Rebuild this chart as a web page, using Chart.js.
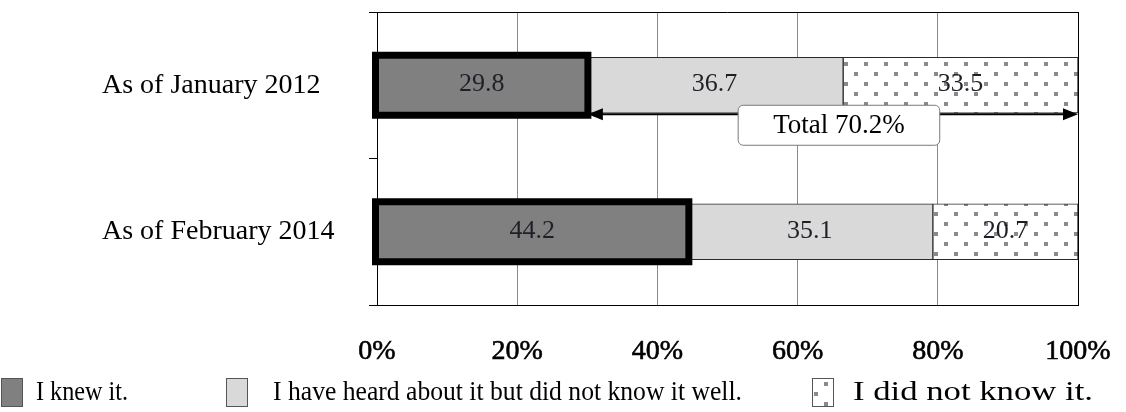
<!DOCTYPE html>
<html>
<head>
<meta charset="utf-8">
<title>Awareness survey</title>
<script src="https://cdn.jsdelivr.net/npm/chart.js@4/dist/chart.umd.min.js"></script>
<style>
  html, body { margin: 0; padding: 0; background: #fff; }
  #wrap { width: 1126px; height: 412px; position: relative; }
</style>
</head>
<body>
<div id="wrap"><canvas id="chart"></canvas></div>
<script>
// Survey periods (rows) and the share of answers for each response (%)
const categories = ['As of January 2012', 'As of February 2014'];
const seriesNames = ['I knew it.', 'I have heard about it but did not know it well.', 'I did not know it.'];
const knewIt = [29.8, 44.2];
const heardNotWell = [36.7, 35.1];
const didNotKnow = [33.5, 20.7];
const tickStep = 20;

const SERIF = "'Liberation Serif', 'Times New Roman', serif";

// White tile with staggered grey dots for the "did not know" segments
function dotPattern() {
  const tile = document.createElement('canvas');
  tile.width = 20; tile.height = 20;
  const g = tile.getContext('2d');
  g.fillStyle = '#ffffff';
  g.fillRect(0, 0, 20, 20);
  g.fillStyle = '#8a8a8a';
  g.fillRect(4, 2, 4, 4);
  g.fillRect(14, 12, 4, 4);
  return g.createPattern(tile, 'repeat');
}
const dots = dotPattern();

// Values printed in the middle of every segment
const segmentLabels = {
  id: 'segmentLabels',
  afterDatasetsDraw(chart) {
    const ctx = chart.ctx;
    ctx.save();
    ctx.font = '26px ' + SERIF;
    ctx.fillStyle = '#1f1f28';
    ctx.textAlign = 'center';
    ctx.textBaseline = 'middle';
    chart.data.datasets.forEach((ds, di) => {
      chart.getDatasetMeta(di).data.forEach((el, i) => {
        const p = el.getProps(['x', 'y', 'base'], true);
        ctx.fillText(ds.data[i].toFixed(1), (p.x + p.base) / 2, p.y - 1);
      });
    });
    ctx.restore();
  }
};

// Heavy outline around the "I knew it." segments
const heavyOutline = {
  id: 'heavyOutline',
  afterDatasetsDraw(chart) {
    const ctx = chart.ctx;
    ctx.save();
    ctx.strokeStyle = '#000';
    ctx.lineWidth = 7;
    ctx.lineJoin = 'miter';
    chart.getDatasetMeta(0).data.forEach(el => {
      const p = el.getProps(['x', 'y', 'base', 'height'], true);
      const l = Math.min(p.x, p.base) - 2, r = Math.max(p.x, p.base) + 2;
      const t = p.y - p.height / 2 - 2, b = p.y + p.height / 2 + 2;
      ctx.strokeRect(l, t, r - l, b - t);
    });
    ctx.restore();
  }
};

// Double-headed arrow spanning the two lighter segments of the first row, with its total
const totalCallout = {
  id: 'totalCallout',
  afterDatasetsDraw(chart) {
    const ctx = chart.ctx;
    const first = chart.getDatasetMeta(0).data[0].getProps(['x', 'y', 'height'], true);
    const last = chart.getDatasetMeta(2).data[0].getProps(['x'], true);
    const x0 = first.x + 2, x1 = last.x;
    const y = first.y + first.height / 2 + 1;
    ctx.save();
    ctx.strokeStyle = '#000';
    ctx.fillStyle = '#000';
    ctx.lineWidth = 2;
    ctx.beginPath();
    ctx.moveTo(x0 + 10, y); ctx.lineTo(x1 - 10, y);
    ctx.stroke();
    const head = (tip, dir) => {
      ctx.beginPath();
      ctx.moveTo(tip, y);
      ctx.lineTo(tip - dir * 15, y - 6);
      ctx.lineTo(tip - dir * 15, y + 6);
      ctx.closePath();
      ctx.fill();
    };
    head(x0, -1);
    head(x1, 1);

    const total = (heardNotWell[0] + didNotKnow[0]).toFixed(1);
    const text = 'Total ' + total + '%';
    ctx.font = '27px ' + SERIF;
    const w = ctx.measureText(text).width + 70;
    const h = 40;
    const cx = (x0 + x1) / 2 + 6;
    const bx = cx - w / 2, by = y - 9;
    ctx.beginPath();
    ctx.roundRect(bx, by, w, h, 5);
    ctx.fillStyle = '#fff';
    ctx.fill();
    ctx.lineWidth = 1;
    ctx.strokeStyle = '#7a7a7a';
    ctx.stroke();
    ctx.fillStyle = '#000';
    ctx.textAlign = 'center';
    ctx.textBaseline = 'middle';
    ctx.fillText(text, cx, by + h / 2 + 1);
    ctx.restore();
  }
};

// Top border of the plot area
const topBorder = {
  id: 'topBorder',
  afterDraw(chart) {
    const { ctx, chartArea: a } = chart;
    ctx.save();
    ctx.strokeStyle = '#000';
    ctx.lineWidth = 1;
    ctx.beginPath();
    ctx.moveTo(a.left, a.top + 0.5);
    ctx.lineTo(a.right + 0.5, a.top + 0.5);
    ctx.stroke();
    ctx.restore();
  }
};

// Legend row along the bottom edge; each entry is fitted to its own slot width
const bottomLegend = {
  id: 'bottomLegend',
  afterDraw(chart) {
    const ctx = chart.ctx;
    const boxX = [1, 226, 812];
    const textX = [36, 273, 853];
    const textW = [92, 469, 240];
    const yTop = 378, boxW = 21, boxH = 28;
    ctx.save();
    ctx.font = '28px ' + SERIF;
    ctx.textBaseline = 'middle';
    ctx.textAlign = 'left';
    chart.data.datasets.forEach((ds, i) => {
      ctx.fillStyle = ds.backgroundColor;
      ctx.fillRect(boxX[i] + 0.5, yTop + 0.5, boxW, boxH);
      ctx.strokeStyle = '#555';
      ctx.lineWidth = 1;
      ctx.strokeRect(boxX[i] + 0.5, yTop + 0.5, boxW, boxH);
      ctx.fillStyle = '#000';
      const natural = ctx.measureText(ds.label).width;
      const sx = textW[i] / natural;
      ctx.save();
      ctx.translate(textX[i], yTop + boxH / 2 + 1);
      ctx.scale(sx, 1);
      ctx.fillText(ds.label, 0, 0);
      ctx.restore();
    });
    ctx.restore();
  }
};

new Chart(document.getElementById('chart'), {
  type: 'bar',
  data: {
    labels: categories,
    datasets: [
      { label: seriesNames[0], data: knewIt, backgroundColor: '#808080', borderWidth: 0 },
      { label: seriesNames[1], data: heardNotWell, backgroundColor: '#d9d9d9', borderColor: '#2a2a2a', borderWidth: 1, borderSkipped: false },
      { label: seriesNames[2], data: didNotKnow, backgroundColor: dots, borderColor: '#2a2a2a', borderWidth: 1, borderSkipped: false }
    ]
  },
  options: {
    indexAxis: 'y',
    responsive: true,
    maintainAspectRatio: false,
    animation: false,
    devicePixelRatio: 1,
    layout: { padding: { left: 102, top: 12, right: 48, bottom: 45 } },
    datasets: { bar: { barThickness: 56 } },
    plugins: { legend: { display: false }, tooltip: { enabled: false } },
    scales: {
      x: {
        stacked: true,
        min: 0,
        max: 100,
        ticks: {
          stepSize: tickStep,
          padding: 30,
          color: '#000',
          textStrokeColor: '#000',
          textStrokeWidth: 0.6,
          font: { family: SERIF, size: 28 },
          callback: v => v + '%'
        },
        grid: {
          color: ctx => (ctx.tick && ctx.tick.value === 100 ? '#000' : '#8a8a8a'),
          lineWidth: 1,
          drawTicks: false
        },
        border: { color: '#000', width: 1 },
        afterFit: s => { s.height = 62; s.paddingLeft = 0; s.paddingRight = 0; }
      },
      y: {
        stacked: true,
        ticks: {
          crossAlign: 'far',
          color: '#000',
          font: { family: SERIF, size: 28 }
        },
        grid: {
          offset: true,
          drawOnChartArea: false,
          drawTicks: true,
          tickLength: 8,
          color: '#000'
        },
        border: { color: '#000', width: 1 },
        afterFit: s => { s.width = 275; s.paddingTop = 0; s.paddingBottom = 0; }
      }
    }
  },
  plugins: [segmentLabels, heavyOutline, totalCallout, topBorder, bottomLegend]
});
</script>
</body>
</html>
